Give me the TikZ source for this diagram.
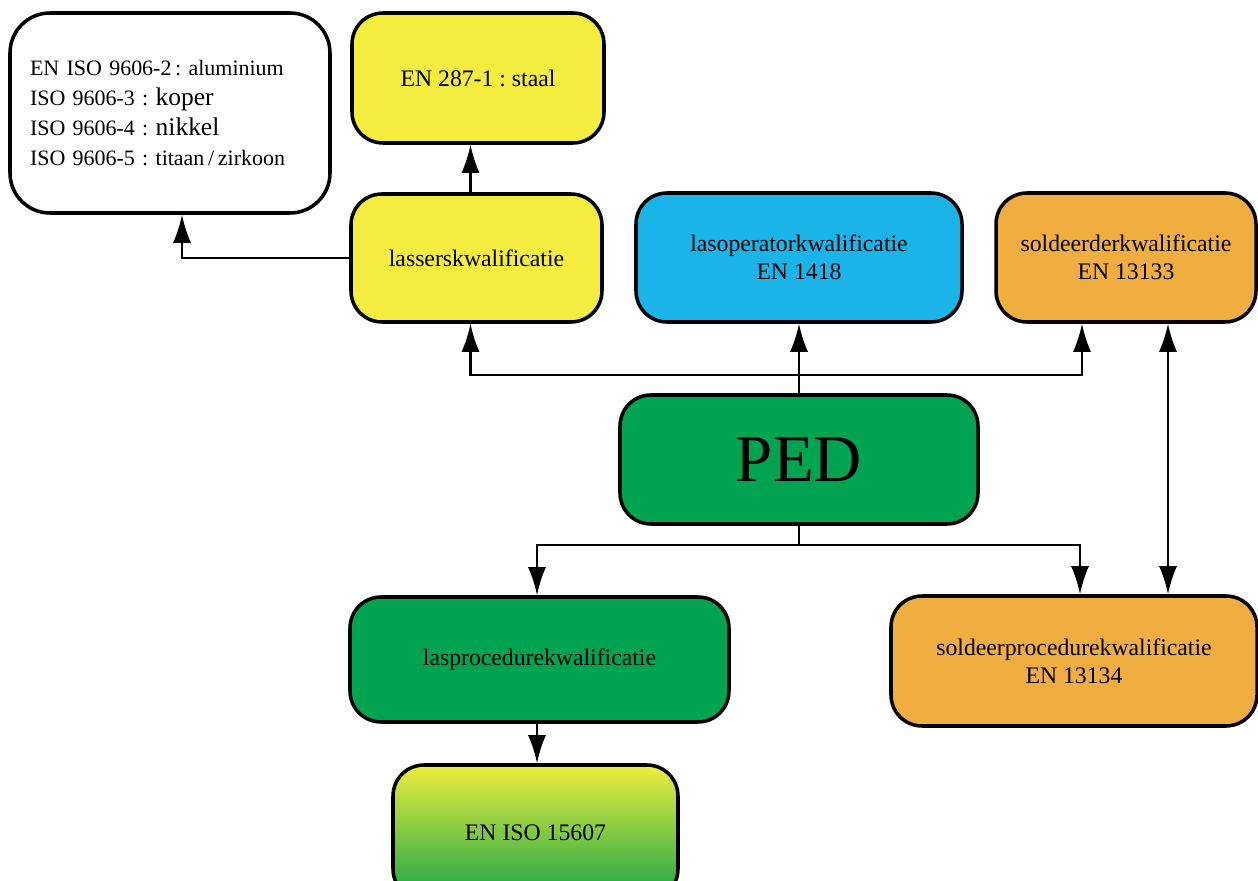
\documentclass[tikz,border=0pt]{standalone}
\usepackage{fontspec}
\setmainfont{Liberation Serif}
\usetikzlibrary{arrows.meta}

\definecolor{lasgeel}{RGB}{244,236,62}
\definecolor{lasblauw}{RGB}{26,180,232}
\definecolor{soldeeroranje}{RGB}{240,173,64}
\definecolor{lasgroen}{RGB}{0,164,80}
\definecolor{isogeel}{RGB}{238,238,62}
\definecolor{isogroen}{RGB}{20,164,72}

\tikzset{
	kwalbox/.style={draw, line width=2pt, rounded corners=0.62cm, align=center, inner sep=0pt,
		font=\fontsize{13.5}{16}\selectfont},
	pijl/.style={line width=1.2pt, -{Latex[length=0.56cm,width=0.36cm]}},
	dubbelpijl/.style={line width=1.2pt, {Latex[length=0.56cm,width=0.36cm]}-{Latex[length=0.56cm,width=0.36cm]}},
}

\begin{document}
\frenchspacing
\begin{tikzpicture}
			%%%%% START %%%%%
			\useasboundingbox (0, 0) rectangle (25.16, -17.62);
			
			% materialen bij de lasserskwalificatie
			\node[kwalbox, fill=white, rounded corners=0.8cm, minimum width=6.4cm, minimum height=4cm,
				text width=5.6cm, align=left, font=\fontsize{12.5}{17}\selectfont] (normen) at (3.4, -2.26)
				{EN ISO 9606-2\,: aluminium\\
				 ISO 9606-3 : {\fontsize{14.5}{17}\selectfont koper}\\
				 ISO 9606-4 : {\fontsize{14.5}{17}\selectfont nikkel}\\
				 ISO 9606-5 : titaan\,/\,zirkoon};
			\node[kwalbox, fill=lasgeel, minimum width=5.04cm, minimum height=2.6cm] (staal) at (9.56, -1.56)
				{EN 287-1 : staal};
			
			% kwalificaties van het personeel
			\node[kwalbox, fill=lasgeel, minimum width=5.02cm, minimum height=2.56cm] (lasser) at (9.53, -5.16)
				{lasserskwalificatie};
			\node[kwalbox, fill=lasblauw, minimum width=6.52cm, minimum height=2.58cm] (lasoperator) at (15.98, -5.15)
				{lasoperatorkwalificatie\\EN 1418};
			\node[kwalbox, fill=soldeeroranje, minimum width=5.2cm, minimum height=2.58cm] (soldeerder) at (22.52, -5.15)
				{soldeerderkwalificatie\\EN 13133};
			
			\node[kwalbox, fill=lasgroen, minimum width=7.16cm, minimum height=2.58cm,
				font=\fontsize{38}{40}\selectfont] (ped) at (15.98, -9.19) {PED};
			
			% procedurekwalificaties
			\node[kwalbox, fill=lasgroen, minimum width=7.58cm, minimum height=2.5cm] (lasprocedure) at (10.79, -13.19)
				{lasprocedurekwalificatie};
			\node[kwalbox, fill=soldeeroranje, minimum width=7.32cm, minimum height=2.6cm] (soldeerprocedure) at (21.48, -13.22)
				{soldeerprocedurekwalificatie\\EN 13134};
			\node[kwalbox, top color=isogeel, bottom color=isogroen, minimum width=5.7cm, minimum height=2.7cm] (iso) at (10.71, -16.65)
				{EN ISO 15607};
			
			% verbindingen
			\coordinate (bovenrail) at (0, -7.5);
			\coordinate (onderrail) at (0, -10.9);
			
			\draw[pijl] ([xshift=-0.12cm]lasser.north) -- ([xshift=-0.12cm]lasser.north |- staal.south);
			\draw[pijl] (lasser.west) -| ([xshift=0.24cm]normen.south);
			
			\draw[pijl] (ped.north) -- (lasoperator.south);
			\draw[pijl] (ped.north |- bovenrail) -| ([xshift=-0.12cm]lasser.south);
			\draw[pijl] (ped.north |- bovenrail) -| ([xshift=-0.88cm]soldeerder.south);
			\draw[dubbelpijl] ([xshift=0.84cm]soldeerder.south) -- ([xshift=0.84cm]soldeerder.south |- soldeerprocedure.north);
			
			\draw[line width=1.2pt] (ped.south) -- (ped.south |- onderrail);
			\draw[pijl] (ped.south |- onderrail) -| ([xshift=-0.05cm]lasprocedure.north);
			\draw[pijl] (ped.south |- onderrail) -| ([xshift=0.12cm]soldeerprocedure.north);
			
			\draw[pijl] ([xshift=-0.05cm]lasprocedure.south) -- ([xshift=-0.05cm]lasprocedure.south |- iso.north);
			
			%%%%% END %%%%%
\end{tikzpicture}
\end{document}
